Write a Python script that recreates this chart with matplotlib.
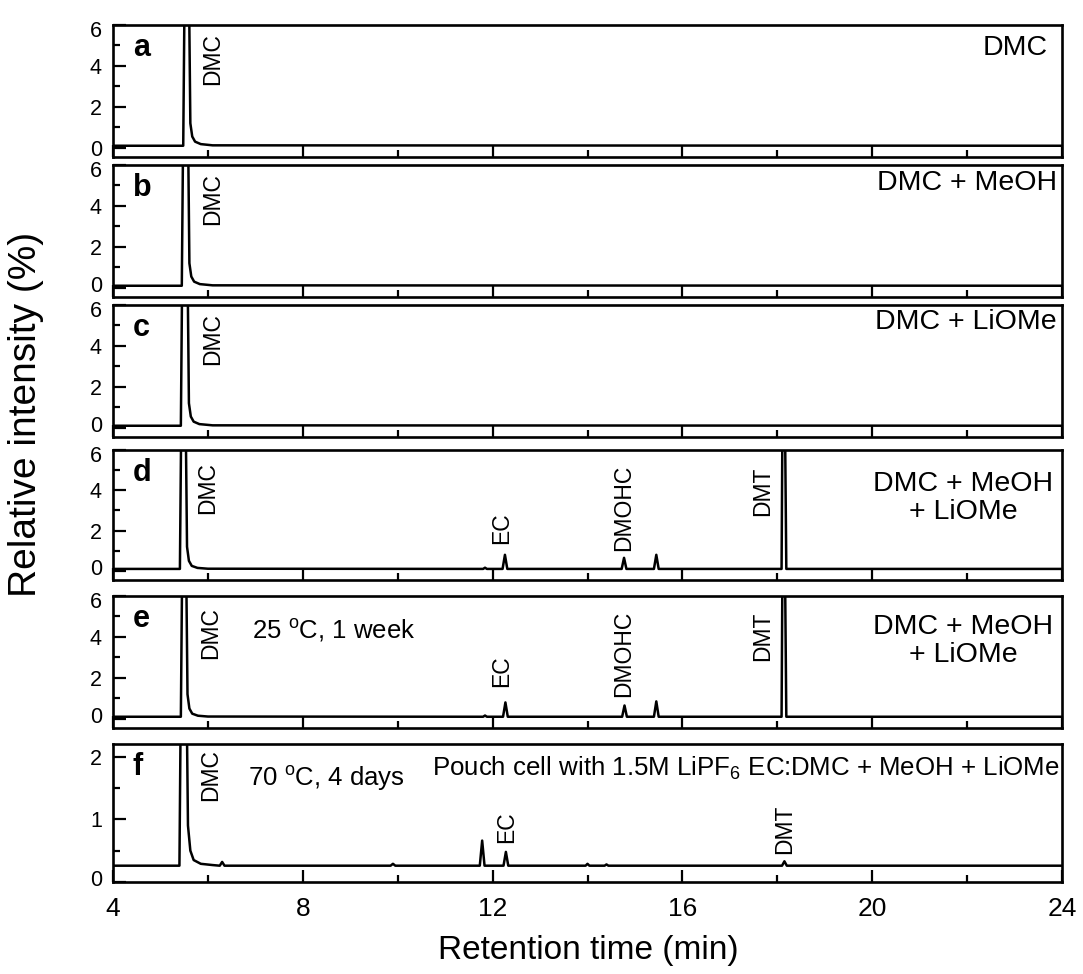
import matplotlib
matplotlib.use("Agg")
import matplotlib.pyplot as plt
from matplotlib.ticker import MultipleLocator
from matplotlib.transforms import ScaledTranslation

plt.rcParams['font.family'] = ['Liberation Sans', 'DejaVu Sans']
plt.rcParams['mathtext.default'] = 'regular'

# ---------------- data ----------------
panel_letters = ['a', 'b', 'c', 'd', 'e', 'f']
panel_titles = ['DMC', 'DMC + MeOH', 'DMC + LiOMe',
                'DMC + MeOH\n+ LiOMe', 'DMC + MeOH\n+ LiOMe',
                'Pouch cell with 1.5M LiPF$_6$ EC:DMC + MeOH + LiOMe']

a_x = [4.0, 5.48, 5.51, 5.60, 5.63, 5.67, 5.73, 5.85, 6.1, 24.0]
a_y = [0.1, 0.1, 8.0, 8.0, 1.2, 0.55, 0.30, 0.18, 0.12, 0.1]

b_x = [4.0, 5.45, 5.48, 5.58, 5.61, 5.65, 5.71, 5.83, 6.1, 24.0]
b_y = [0.1, 0.1, 8.0, 8.0, 1.2, 0.55, 0.30, 0.18, 0.12, 0.1]

c_x = [4.0, 5.43, 5.46, 5.57, 5.60, 5.64, 5.70, 5.82, 6.1, 24.0]
c_y = [0.1, 0.1, 8.0, 8.0, 1.2, 0.55, 0.30, 0.18, 0.12, 0.1]

d_x = [4.0, 5.41, 5.44, 5.53, 5.56, 5.60, 5.66, 5.78, 6.0,
       11.80, 11.84, 11.88, 12.21, 12.26, 12.31,
       14.72, 14.77, 14.82, 15.40, 15.45, 15.50,
       18.09, 18.11, 18.16, 18.19, 24.0]
d_y = [0.1, 0.1, 8.0, 8.0, 1.2, 0.5, 0.25, 0.15, 0.11,
       0.1, 0.16, 0.1, 0.1, 0.8, 0.1,
       0.1, 0.65, 0.1, 0.1, 0.8, 0.1,
       0.1, 8.0, 8.0, 0.1, 0.1]

e_x = [4.0, 5.43, 5.46, 5.54, 5.57, 5.61, 5.67, 5.79, 6.0,
       11.80, 11.84, 11.88, 12.22, 12.27, 12.32,
       14.73, 14.78, 14.83, 15.40, 15.45, 15.50,
       18.09, 18.11, 18.16, 18.19, 24.0]
e_y = [0.1, 0.1, 8.0, 8.0, 1.2, 0.5, 0.25, 0.15, 0.11,
       0.1, 0.16, 0.1, 0.1, 0.8, 0.1,
       0.1, 0.65, 0.1, 0.1, 0.85, 0.1,
       0.1, 8.0, 8.0, 0.1, 0.1]

f_x = [4.0, 5.40, 5.43, 5.55, 5.58, 5.63, 5.70, 5.85, 6.1,
       6.25, 6.30, 6.35, 9.85, 9.90, 9.95,
       11.73, 11.78, 11.83, 12.23, 12.28, 12.33,
       13.96, 14.00, 14.04, 14.36, 14.40, 14.44,
       18.10, 18.15, 18.20, 24.0]
f_y = [0.26, 0.26, 3.0, 3.0, 0.9, 0.5, 0.35, 0.29, 0.27,
       0.26, 0.32, 0.26, 0.26, 0.29, 0.26,
       0.26, 0.66, 0.26, 0.26, 0.48, 0.26,
       0.26, 0.29, 0.26, 0.26, 0.28, 0.26,
       0.26, 0.33, 0.26, 0.26]

traces_x = [a_x, b_x, c_x, d_x, e_x, f_x]
traces_y = [a_y, b_y, c_y, d_y, e_y, f_y]

# peak labels
peak_label_panel = [0, 1, 2, 3, 3, 3, 3, 4, 4, 4, 4, 5, 5, 5]
peak_label_text = ['DMC', 'DMC', 'DMC', 'DMC', 'EC', 'DMOHC', 'DMT',
                   'DMC', 'EC', 'DMOHC', 'DMT', 'DMC', 'EC', 'DMT']
peak_label_x = [6.1, 6.1, 6.1, 6.0, 12.2, 14.77, 17.7,
                6.05, 12.2, 14.77, 17.7, 6.05, 12.3, 18.15]
peak_label_y = [5.6, 5.6, 5.6, 5.4, 1.35, 1.0, 2.75,
                5.45, 1.55, 1.05, 2.8, 2.12, 0.62, 0.45]
peak_label_va = ['top', 'top', 'top', 'top', 'bottom', 'bottom', 'bottom',
                 'top', 'bottom', 'bottom', 'bottom', 'top', 'bottom', 'bottom']

x_ticks = [4, 8, 12, 16, 20, 24]
y_ticks_main = [0, 2, 4, 6]
y_ticks_f = [0, 1, 2]

# ---------------- layout ----------------
W, H = 1083, 974
fig = plt.figure(figsize=(W / 100, H / 100), dpi=100)
left_px, right_px = 113, 1062
tops = [25, 165, 305, 450, 596, 744]
bottoms = [157, 297, 437, 580, 728, 882]
title_right_px = [1048, 1057, 1057, 1053, 1053, 1060]
title_center_px = [48, 183, 322, 498, 641, 768]

axes = []
for i in range(6):
    t, b = tops[i], bottoms[i]
    ax = fig.add_axes([left_px / W, 1 - b / H, (right_px - left_px) / W, (b - t) / H])
    axes.append(ax)
    ax.plot(traces_x[i], traces_y[i], color='black', lw=1.8, solid_joinstyle='round')
    ax.set_xlim(4, 24)
    if i < 5:
        ax.set_ylim(-0.45, 6.0)
        ax.set_yticks(y_ticks_main)
        ax.yaxis.set_minor_locator(MultipleLocator(1))
    else:
        ax.set_ylim(0, 2.2)
        ax.set_yticks(y_ticks_f)
        ax.yaxis.set_minor_locator(MultipleLocator(0.5))
    ax.set_xticks(x_ticks)
    ax.xaxis.set_minor_locator(MultipleLocator(2))
    for s in ax.spines.values():
        s.set_linewidth(1.9)
    ax.tick_params(which='both', direction='in', top=False, right=False, width=1.6)
    ax.tick_params(which='major', length=9)
    ax.tick_params(which='minor', length=5)
    ax.tick_params(axis='y', labelsize=15.5, pad=8)
    ax.tick_params(axis='x', labelsize=19, pad=11)
    if i < 5:
        ax.tick_params(axis='x', labelbottom=False)
    # nudge the 0 / 6 labels so that neighbouring panels' labels do not collide
    yt = ax.yaxis.get_major_ticks()
    if i < 5:
        lab = yt[-1].label1
        lab.set_transform(lab.get_transform() + ScaledTranslation(0, -4 / 100, fig.dpi_scale_trans))
    if i > 0:
        lab = yt[0].label1
        lab.set_transform(lab.get_transform() + ScaledTranslation(0, 4 / 100, fig.dpi_scale_trans))
    h = b - t
    # panel letter
    ax.text(0.021, 1 - 31 / h, panel_letters[i], transform=ax.transAxes,
            fontsize=22, fontweight='bold', ha='left', va='baseline')
    # panel title (right)
    fs = 18.6 if i == 5 else 20.5
    ax.text((title_right_px[i] - left_px) / (right_px - left_px),
            1 - (title_center_px[i] - t) / h, panel_titles[i],
            transform=ax.transAxes, fontsize=fs, ha='right', va='center',
            multialignment='center', linespacing=1.1)

for k in range(len(peak_label_text)):
    ax = axes[peak_label_panel[k]]
    ax.text(peak_label_x[k], peak_label_y[k], peak_label_text[k], rotation=90,
            fontsize=16.5, ha='center', va=peak_label_va[k])

axes[4].text(6.93, 4.3, '25 $^{o}$C, 1 week', fontsize=18.5, ha='left', va='center')
axes[5].text(6.85, 1.65, '70 $^{o}$C, 4 days', fontsize=18.5, ha='left', va='center')

fig.text(0.024, 1 - 414 / H, 'Relative intensity (%)', rotation=90,
         fontsize=28, ha='center', va='center')
fig.text(588 / W, 1 - 950 / H, 'Retention time (min)', fontsize=24,
         ha='center', va='center')

fig.savefig('out.png', dpi=100)
